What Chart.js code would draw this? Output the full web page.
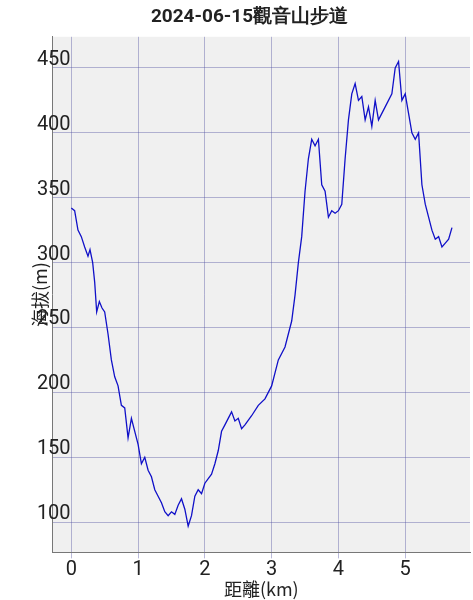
<!DOCTYPE html>
<html>
<head>
<meta charset="utf-8">
<script src="https://cdn.jsdelivr.net/npm/chart.js@4"></script>
<style>
  body { margin: 0; background: #fff; }
  #wrap { width: 473px; height: 600px; }
</style>
</head>
<body>
<div id="wrap"><canvas id="myChart"></canvas></div>
<script>
const distKm = [0, 0.05, 0.1, 0.15, 0.2, 0.25, 0.28, 0.32, 0.35, 0.38, 0.42, 0.46, 0.5, 0.55, 0.6, 0.65, 0.7, 0.75, 0.8, 0.85,
  0.9, 0.95, 1.0, 1.05, 1.1, 1.15, 1.2, 1.25, 1.3, 1.35, 1.4, 1.45, 1.5, 1.55, 1.6, 1.65, 1.7, 1.75, 1.8, 1.85,
  1.9, 1.95, 2.0, 2.1, 2.15, 2.2, 2.25, 2.3, 2.35, 2.4, 2.45, 2.5, 2.55, 2.6, 2.7, 2.8, 2.9, 3.0, 3.1, 3.2,
  3.3, 3.35, 3.4, 3.45, 3.5, 3.55, 3.6, 3.65, 3.7, 3.75, 3.8, 3.85, 3.9, 3.95, 4.0, 4.05, 4.1, 4.15, 4.2, 4.25,
  4.3, 4.35, 4.4, 4.45, 4.5, 4.55, 4.6, 4.7, 4.8, 4.85, 4.9, 4.95, 5.0, 5.05, 5.1, 5.15, 5.2, 5.25, 5.3, 5.35,
  5.4, 5.45, 5.5, 5.55, 5.6, 5.65, 5.7];
const elevM = [342, 340, 325, 320, 312, 305, 310, 300, 285, 262, 270, 265, 262, 245, 225, 212, 205, 190, 188, 165,
  180, 170, 160, 145, 150, 140, 135, 125, 120, 115, 108, 105, 108, 106, 113, 118, 110, 97, 105, 120,
  125, 122, 130, 137, 145, 155, 170, 175, 180, 185, 178, 180, 172, 175, 182, 190, 195, 205, 225, 235,
  255, 275, 300, 320, 355, 380, 395, 390, 395, 360, 355, 335, 340, 338, 340, 345, 380, 410, 430, 438,
  425, 428, 410, 420, 405, 425, 410, 420, 430, 450, 455, 425, 430, 415, 400, 395, 400, 360, 345, 335,
  325, 318, 320, 312, 315, 318, 327];
const xTicks = [0, 1, 2, 3, 4, 5];
const yTicks = [100, 150, 200, 250, 300, 350, 400, 450];

const points = distKm.map((d, i) => ({ x: d, y: elevM[i] }));

// background + y labels drawn over the axis like the original
const plotDeco = {
  id: 'plotDeco',
  beforeDraw(chart) {
    const a = chart.chartArea, c = chart.ctx;
    c.save();
    c.fillStyle = '#f0f0f0';
    c.fillRect(a.left, a.top, a.right - a.left, a.bottom - a.top);
    c.restore();
  },
  afterDraw(chart) {
    const c = chart.ctx, y = chart.scales.y, left = chart.chartArea.left;
    c.save();
    c.font = '20px Roboto';
    c.fillStyle = '#222';
    c.textAlign = 'right';
    c.textBaseline = 'bottom';
    yTicks.forEach(v => c.fillText(String(v), left + 18, y.getPixelForValue(v) + 2));
    c.restore();
  }
};

new Chart(document.getElementById('myChart'), {
  type: 'line',
  data: {
    datasets: [{
      data: points,
      borderColor: '#1010c8',
      borderWidth: 1.3,
      pointRadius: 0,
      tension: 0
    }]
  },
  options: {
    responsive: true,
    maintainAspectRatio: false,
    animation: false,
    layout: { padding: { left: 29, right: 3 } },
    plugins: {
      legend: false,
      tooltip: { enabled: false },
      title: {
        display: true,
        text: '2024-06-15觀音山步道',
        font: { family: 'Roboto', size: 19, weight: 'bold' },
        color: '#222',
        padding: { top: 6, bottom: 8 }
      }
    },
    scales: {
      x: {
        type: 'linear',
        min: -0.28,
        max: 5.97,
        afterBuildTicks: (s) => { s.ticks = xTicks.map(v => ({ value: v })); },
        ticks: { font: { family: 'Roboto', size: 20 }, color: '#222', padding: 0 },
        grid: { color: 'rgba(80,80,160,0.4)', tickLength: 6 },
        border: { color: '#777' },
        title: { display: true, text: '距離(km)', font: { family: 'Noto Sans CJK TC', size: 18 }, color: '#222', padding: { top: -4, bottom: 0 } }
      },
      y: {
        min: 76.7,
        max: 474,
        afterBuildTicks: (s) => { s.ticks = yTicks.map(v => ({ value: v })); },
        ticks: { display: false },
        grid: { color: 'rgba(80,80,160,0.4)', drawTicks: false },
        border: { color: '#777' },
        title: { display: true, text: '海拔(m)', font: { family: 'Noto Sans CJK TC', size: 18 }, color: '#222', padding: { top: 0, bottom: 2 } }
      }
    }
  },
  plugins: [plotDeco]
});
</script>
</body>
</html>
